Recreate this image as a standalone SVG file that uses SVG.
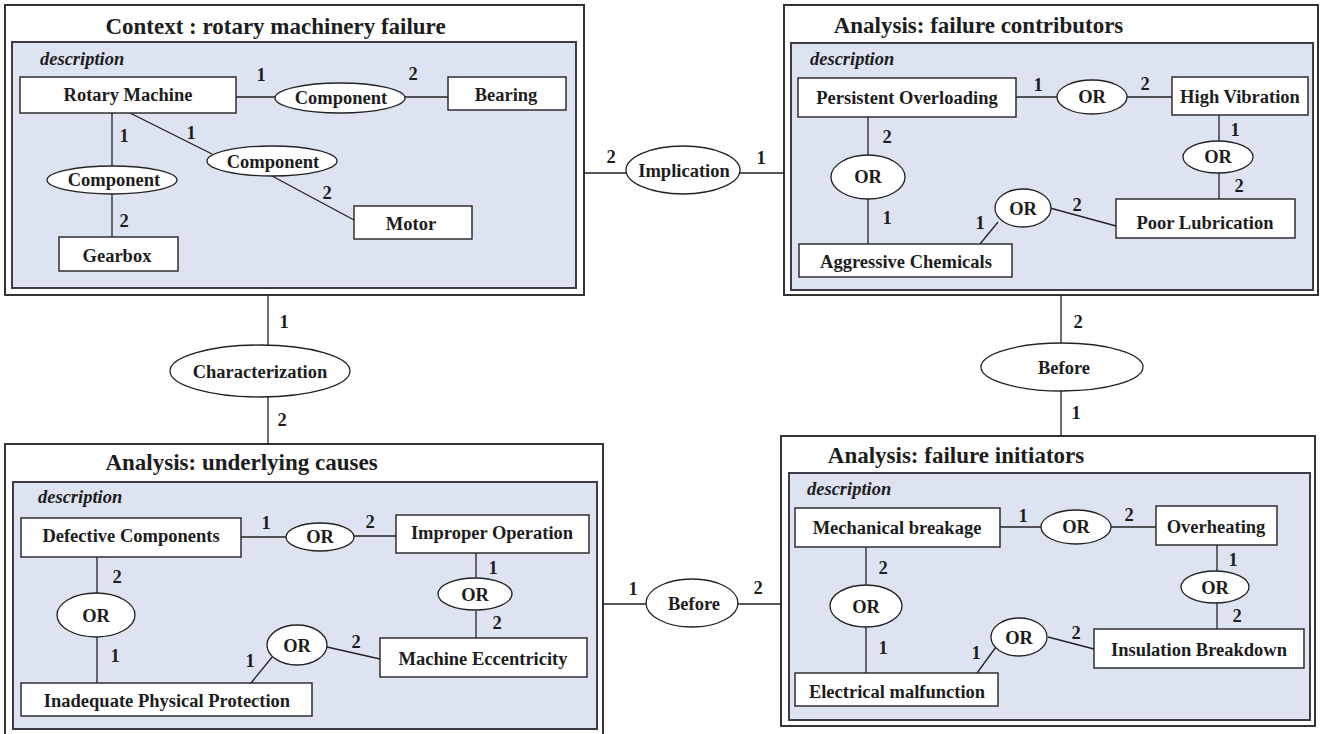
<svg xmlns="http://www.w3.org/2000/svg" width="1322" height="734" viewBox="0 0 1322 734">
<style>
.outer{fill:#fff;stroke:#333;stroke-width:2}
.inner{fill:#dde3f1;stroke:#3c3c46;stroke-width:2}
.box{fill:#fff;stroke:#222;stroke-width:1.4}
.ell{fill:#fff;stroke:#222;stroke-width:1.3}
.ln{stroke:#222;stroke-width:1.3;fill:none}
text{font-family:"Liberation Serif","Times New Roman",serif;font-weight:bold;fill:#1d1d1d}
.t{font-size:23px;text-anchor:middle}
.d{font-size:18.5px;font-style:italic}
.l{font-size:18.5px;text-anchor:middle}
.n{font-size:18.5px;text-anchor:middle}
</style>
<rect width="1322" height="734" fill="#fff"/>

<!-- Container 1 -->
<g id="context-rotary-machinery-failure">
<rect class="outer" x="5" y="5" width="579" height="290"/>
<text class="t" x="275.5" y="34">Context : rotary machinery failure</text>
<rect class="inner" x="12" y="42" width="564" height="246"/>
<text class="d" x="40" y="65">description</text>
</g>
<!-- Container 2 -->
<g id="analysis-failure-contributors">
<rect class="outer" x="784" y="5" width="534" height="290"/>
<text class="t" x="978.5" y="33">Analysis: failure contributors</text>
<rect class="inner" x="791" y="43" width="522" height="247"/>
<text class="d" x="810" y="65">description</text>
</g>
<!-- Container 3 -->
<g id="analysis-underlying-causes">
<rect class="outer" x="5" y="444" width="598" height="300"/>
<text class="t" x="241.5" y="470">Analysis: underlying causes</text>
<rect class="inner" x="13" y="482" width="584" height="247"/>
<text class="d" x="38" y="503">description</text>
</g>
<!-- Container 4 -->
<g id="analysis-failure-initiators">
<rect class="outer" x="781" y="436" width="534" height="290"/>
<text class="t" x="956" y="463">Analysis: failure initiators</text>
<rect class="inner" x="789" y="473" width="521" height="247"/>
<text class="d" x="807" y="495">description</text>
</g>

<g id="connectors">
<!-- box1 internal -->
<line class="ln" x1="236" y1="97" x2="275" y2="97"/>
<line class="ln" x1="405" y1="97" x2="448" y2="97"/>
<line class="ln" x1="112" y1="113" x2="112" y2="166"/>
<line class="ln" x1="112" y1="194" x2="112" y2="237"/>
<line class="ln" x1="130" y1="113" x2="212" y2="154"/>
<line class="ln" x1="272" y1="176" x2="354" y2="220"/>
<!-- box2 internal -->
<line class="ln" x1="1016" y1="97" x2="1057" y2="97"/>
<line class="ln" x1="1127" y1="97" x2="1172" y2="97"/>
<line class="ln" x1="1219" y1="115" x2="1219" y2="141"/>
<line class="ln" x1="1219" y1="173" x2="1219" y2="199"/>
<line class="ln" x1="868" y1="117" x2="868" y2="155"/>
<line class="ln" x1="868" y1="199" x2="868" y2="244"/>
<line class="ln" x1="998" y1="222" x2="980" y2="244"/>
<line class="ln" x1="1050" y1="208" x2="1116" y2="226"/>
<!-- box3 internal -->
<line class="ln" x1="241" y1="537" x2="286" y2="537"/>
<line class="ln" x1="354" y1="536" x2="396" y2="536"/>
<line class="ln" x1="476" y1="553" x2="476" y2="578"/>
<line class="ln" x1="476" y1="611" x2="476" y2="638"/>
<line class="ln" x1="97" y1="557" x2="97" y2="593"/>
<line class="ln" x1="97" y1="637" x2="97" y2="683"/>
<line class="ln" x1="273" y1="656" x2="251" y2="683"/>
<line class="ln" x1="327" y1="647" x2="380" y2="659"/>
<!-- box4 internal -->
<line class="ln" x1="1000" y1="527" x2="1041" y2="527"/>
<line class="ln" x1="1111" y1="527" x2="1156" y2="527"/>
<line class="ln" x1="1217" y1="545" x2="1217" y2="571"/>
<line class="ln" x1="1217" y1="603" x2="1217" y2="629"/>
<line class="ln" x1="866" y1="547" x2="866" y2="585"/>
<line class="ln" x1="866" y1="627" x2="866" y2="673"/>
<line class="ln" x1="996" y1="647" x2="977" y2="673"/>
<line class="ln" x1="1048" y1="637" x2="1094" y2="649"/>
<!-- between containers -->
<line class="ln" x1="584" y1="173" x2="626" y2="173"/>
<line class="ln" x1="739" y1="173" x2="784" y2="173"/>
<line class="ln" x1="268" y1="295" x2="268" y2="345"/>
<line class="ln" x1="268" y1="397" x2="268" y2="444"/>
<line class="ln" x1="1061" y1="295" x2="1061" y2="343"/>
<line class="ln" x1="1061" y1="391" x2="1061" y2="436"/>
<line class="ln" x1="603" y1="604" x2="646" y2="604"/>
<line class="ln" x1="738" y1="604" x2="781" y2="604"/>
<!-- multiplicities -->
<text class="n" x="261" y="81">1</text>
<text class="n" x="413" y="80">2</text>
<text class="n" x="124" y="142">1</text>
<text class="n" x="124" y="227">2</text>
<text class="n" x="191" y="139">1</text>
<text class="n" x="327" y="199">2</text>
<text class="n" x="1038" y="91">1</text>
<text class="n" x="1145" y="90">2</text>
<text class="n" x="1235" y="136">1</text>
<text class="n" x="1239" y="192">2</text>
<text class="n" x="887" y="143">2</text>
<text class="n" x="887" y="224">1</text>
<text class="n" x="980" y="229">1</text>
<text class="n" x="1077" y="211">2</text>
<text class="n" x="266" y="529">1</text>
<text class="n" x="370" y="528">2</text>
<text class="n" x="493" y="574">1</text>
<text class="n" x="497" y="629">2</text>
<text class="n" x="117" y="583">2</text>
<text class="n" x="115" y="662">1</text>
<text class="n" x="250" y="667">1</text>
<text class="n" x="356" y="648">2</text>
<text class="n" x="1023" y="522">1</text>
<text class="n" x="1129" y="521">2</text>
<text class="n" x="1233" y="566">1</text>
<text class="n" x="1237" y="622">2</text>
<text class="n" x="883" y="574">2</text>
<text class="n" x="883" y="654">1</text>
<text class="n" x="976" y="659">1</text>
<text class="n" x="1076" y="639">2</text>
<text class="n" x="611" y="163">2</text>
<text class="n" x="761" y="164">1</text>
<text class="n" x="284" y="328">1</text>
<text class="n" x="282" y="426">2</text>
<text class="n" x="1078" y="328">2</text>
<text class="n" x="1076" y="419">1</text>
<text class="n" x="633" y="595">1</text>
<text class="n" x="758" y="594">2</text>
</g>

<g id="rotary-machine"><rect class="box" x="20" y="77" width="216" height="36"/><text class="l" x="128" y="101">Rotary Machine</text></g>
<g id="bearing"><rect class="box" x="448" y="77" width="118" height="33"/><text class="l" x="506" y="101">Bearing</text></g>
<g id="gearbox"><rect class="box" x="59" y="237" width="119" height="34"/><text class="l" x="117" y="262">Gearbox</text></g>
<g id="motor"><rect class="box" x="354" y="206" width="118" height="33"/><text class="l" x="411" y="230">Motor</text></g>
<g id="component-1"><ellipse class="ell" cx="340" cy="98" rx="65" ry="15"/><text class="l" x="341" y="104">Component</text></g>
<g id="component-2"><ellipse class="ell" cx="272" cy="161" rx="65" ry="15"/><text class="l" x="273" y="168">Component</text></g>
<g id="component-3"><ellipse class="ell" cx="112" cy="180" rx="65" ry="14"/><text class="l" x="114" y="186">Component</text></g>

<g id="persistent-overloading"><rect class="box" x="798" y="78" width="218" height="39"/><text class="l" x="907" y="104">Persistent Overloading</text></g>
<g id="high-vibration"><rect class="box" x="1172" y="77" width="136" height="38"/><text class="l" x="1240" y="103">High Vibration</text></g>
<g id="poor-lubrication"><rect class="box" x="1116" y="199" width="179" height="39"/><text class="l" x="1205" y="229">Poor Lubrication</text></g>
<g id="aggressive-chemicals"><rect class="box" x="799" y="244" width="213" height="33"/><text class="l" x="906" y="268">Aggressive Chemicals</text></g>
<g id="or-c1"><ellipse class="ell" cx="1092" cy="97" rx="35" ry="17"/><text class="l" x="1092" y="103">OR</text></g>
<g id="or-c2"><ellipse class="ell" cx="1218" cy="157" rx="35" ry="16"/><text class="l" x="1218" y="163">OR</text></g>
<g id="or-c3"><ellipse class="ell" cx="868" cy="177" rx="37" ry="22"/><text class="l" x="868" y="183">OR</text></g>
<g id="or-c4"><ellipse class="ell" cx="1023" cy="208" rx="28" ry="19"/><text class="l" x="1023" y="215">OR</text></g>

<g id="defective-components"><rect class="box" x="21" y="518" width="220" height="39"/><text class="l" x="131" y="542">Defective Components</text></g>
<g id="improper-operation"><rect class="box" x="396" y="515" width="193" height="38"/><text class="l" x="492" y="539">Improper Operation</text></g>
<g id="machine-eccentricity"><rect class="box" x="380" y="638" width="207" height="39"/><text class="l" x="483" y="665">Machine Eccentricity</text></g>
<g id="inadequate-physical-protection"><rect class="box" x="21" y="683" width="291" height="33"/><text class="l" x="167" y="707">Inadequate Physical Protection</text></g>
<g id="or-u1"><ellipse class="ell" cx="320" cy="537" rx="34" ry="14"/><text class="l" x="320" y="543">OR</text></g>
<g id="or-u2"><ellipse class="ell" cx="475" cy="594" rx="37" ry="16"/><text class="l" x="475" y="601">OR</text></g>
<g id="or-u3"><ellipse class="ell" cx="96" cy="615" rx="39" ry="22"/><text class="l" x="96" y="622">OR</text></g>
<g id="or-u4"><ellipse class="ell" cx="297" cy="645" rx="30" ry="20"/><text class="l" x="297" y="652">OR</text></g>

<g id="mechanical-breakage"><rect class="box" x="795" y="508" width="205" height="39"/><text class="l" x="897" y="534">Mechanical breakage</text></g>
<g id="overheating"><rect class="box" x="1156" y="506" width="121" height="39"/><text class="l" x="1216" y="533">Overheating</text></g>
<g id="insulation-breakdown"><rect class="box" x="1094" y="629" width="210" height="39"/><text class="l" x="1199" y="656">Insulation Breakdown</text></g>
<g id="electrical-malfunction"><rect class="box" x="795" y="673" width="203" height="33"/><text class="l" x="897" y="698">Electrical malfunction</text></g>
<g id="or-i1"><ellipse class="ell" cx="1076" cy="527" rx="35" ry="17"/><text class="l" x="1076" y="533">OR</text></g>
<g id="or-i2"><ellipse class="ell" cx="1215" cy="587" rx="34" ry="16"/><text class="l" x="1215" y="594">OR</text></g>
<g id="or-i3"><ellipse class="ell" cx="866" cy="606" rx="36" ry="21"/><text class="l" x="866" y="613">OR</text></g>
<g id="or-i4"><ellipse class="ell" cx="1019" cy="637" rx="28" ry="19"/><text class="l" x="1019" y="644">OR</text></g>

<g id="implication"><ellipse class="ell" cx="683" cy="170" rx="57" ry="24"/><text class="l" x="684" y="177">Implication</text></g>
<g id="characterization"><ellipse class="ell" cx="260" cy="371" rx="90" ry="26"/><text class="l" x="260" y="378">Characterization</text></g>
<g id="before-vertical"><ellipse class="ell" cx="1062" cy="367" rx="81" ry="24"/><text class="l" x="1064" y="374">Before</text></g>
<g id="before-horizontal"><ellipse class="ell" cx="692" cy="603" rx="46" ry="24"/><text class="l" x="694" y="610">Before</text></g>
</svg>
